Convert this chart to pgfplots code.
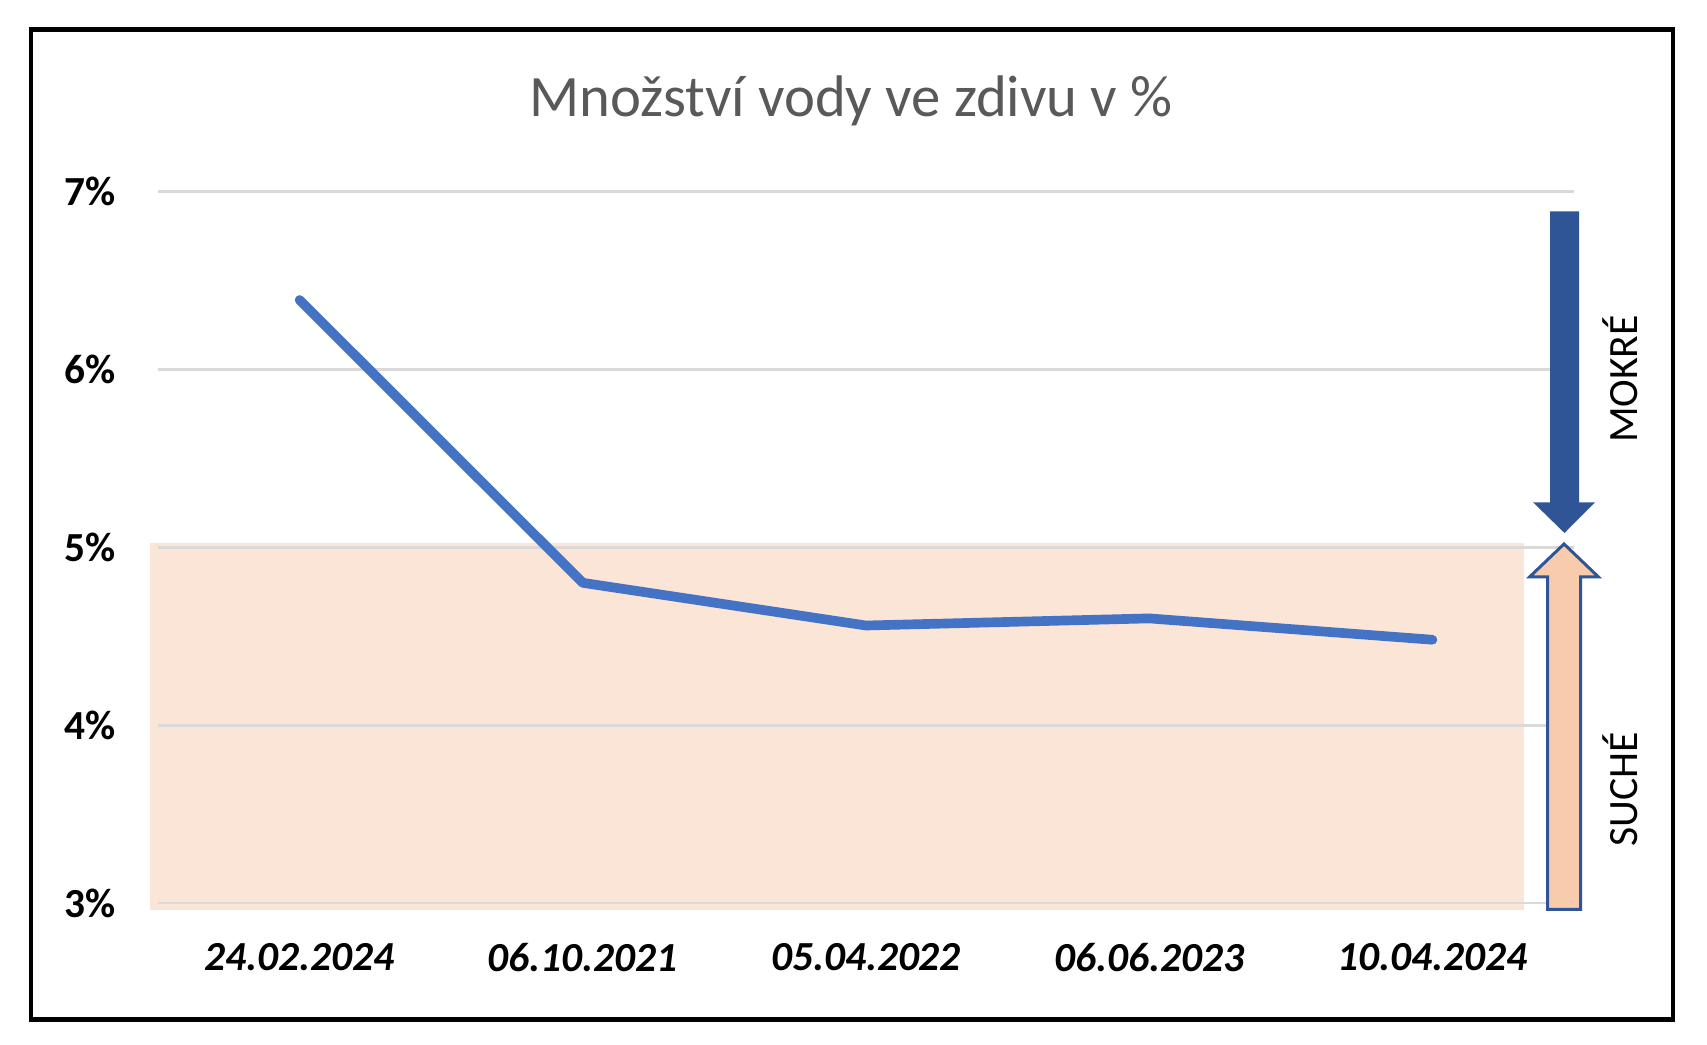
\documentclass[border=0pt]{standalone}
\usepackage{pgfplots}
\pgfplotsset{compat=1.18}
\usepackage{fontspec}
\setmainfont{Carlito}
\definecolor{lineblue}{HTML}{4472C4}
\definecolor{darkblue}{HTML}{2F5597}
\definecolor{shadecol}{HTML}{FBE5D6}
\definecolor{arrowfill}{HTML}{F8CBAD}
\definecolor{gridgray}{HTML}{D9D9D9}
\definecolor{titlegray}{HTML}{595959}
\begin{document}
\begin{tikzpicture}
\begin{axis}[
  at={(47.4pt,42.6pt)}, anchor=south west,
  width=424.8pt, height=213.45pt, scale only axis,
  xmin=-0.5, xmax=4.5, ymin=3, ymax=7,
  xtick={0,1,2,3,4},
  xticklabels={24.02.2024,06.10.2021,05.04.2022,06.06.2023,10.04.2024},
  ytick={3,4,5,6,7}, yticklabels={3\%,4\%,5\%,6\%,7\%},
  axis line style={draw=none},
  major tick length=0pt,
  ymajorgrids, grid style={gridgray, line width=0.85pt},
  xticklabel style={font=\fontsize{12.4}{14}\selectfont\bfseries\itshape, inner sep=0pt, anchor=north, yshift=-12.0pt},
  yticklabel style={font=\fontsize{12.4}{14}\selectfont\bfseries, inner sep=0pt, anchor=east, xshift=-12.45pt},
  set layers, clip=false,
]
\addplot[fill=shadecol, draw=none, on layer=axis background] coordinates {(-0.528,2.96)(4.323,2.96)(4.323,5.024)(-0.528,5.024)} -- cycle;
\addplot[lineblue, line width=2.9pt, line cap=round, line join=round] coordinates {(0,6.39)(1,4.80)(2,4.56)(3,4.60)(4,4.48)};
\end{axis}
\begin{scope}[x=0.3pt,y=0.3pt]
\path (0,0) rectangle (1707,1045);
% frame
\draw[line width=1.4pt] (31,25.5) rectangle (1673,1015.5);
% title
\node[anchor=base, text=titlegray, font=\fontsize{17.6}{21}\selectfont, inner sep=0pt] at (851,928.3) {Množství vody ve zdivu v \%};
% down arrow (MOKRÉ)
\fill[darkblue] (1550,833.5) -- (1579,833.5) -- (1579,542.7) -- (1595,542.7) -- (1564.5,512) -- (1533,542.7) -- (1550,542.7) -- cycle;
% up arrow (SUCHÉ)
\filldraw[fill=arrowfill, draw=darkblue, line width=0.9pt, line join=miter] (1547.5,135.5) -- (1580.5,135.5) -- (1580.5,468) -- (1598.5,468) -- (1564,501) -- (1529.5,468) -- (1547.5,468) -- cycle;
% labels
\node[rotate=90, anchor=base, inner sep=0pt, font=\fontsize{12.5}{14}\selectfont] at (1637,666) {MOKRÉ};
\node[rotate=90, anchor=base, inner sep=0pt, font=\fontsize{12.5}{14}\selectfont] at (1637,256) {SUCHÉ};
\end{scope}
\end{tikzpicture}
\end{document}
